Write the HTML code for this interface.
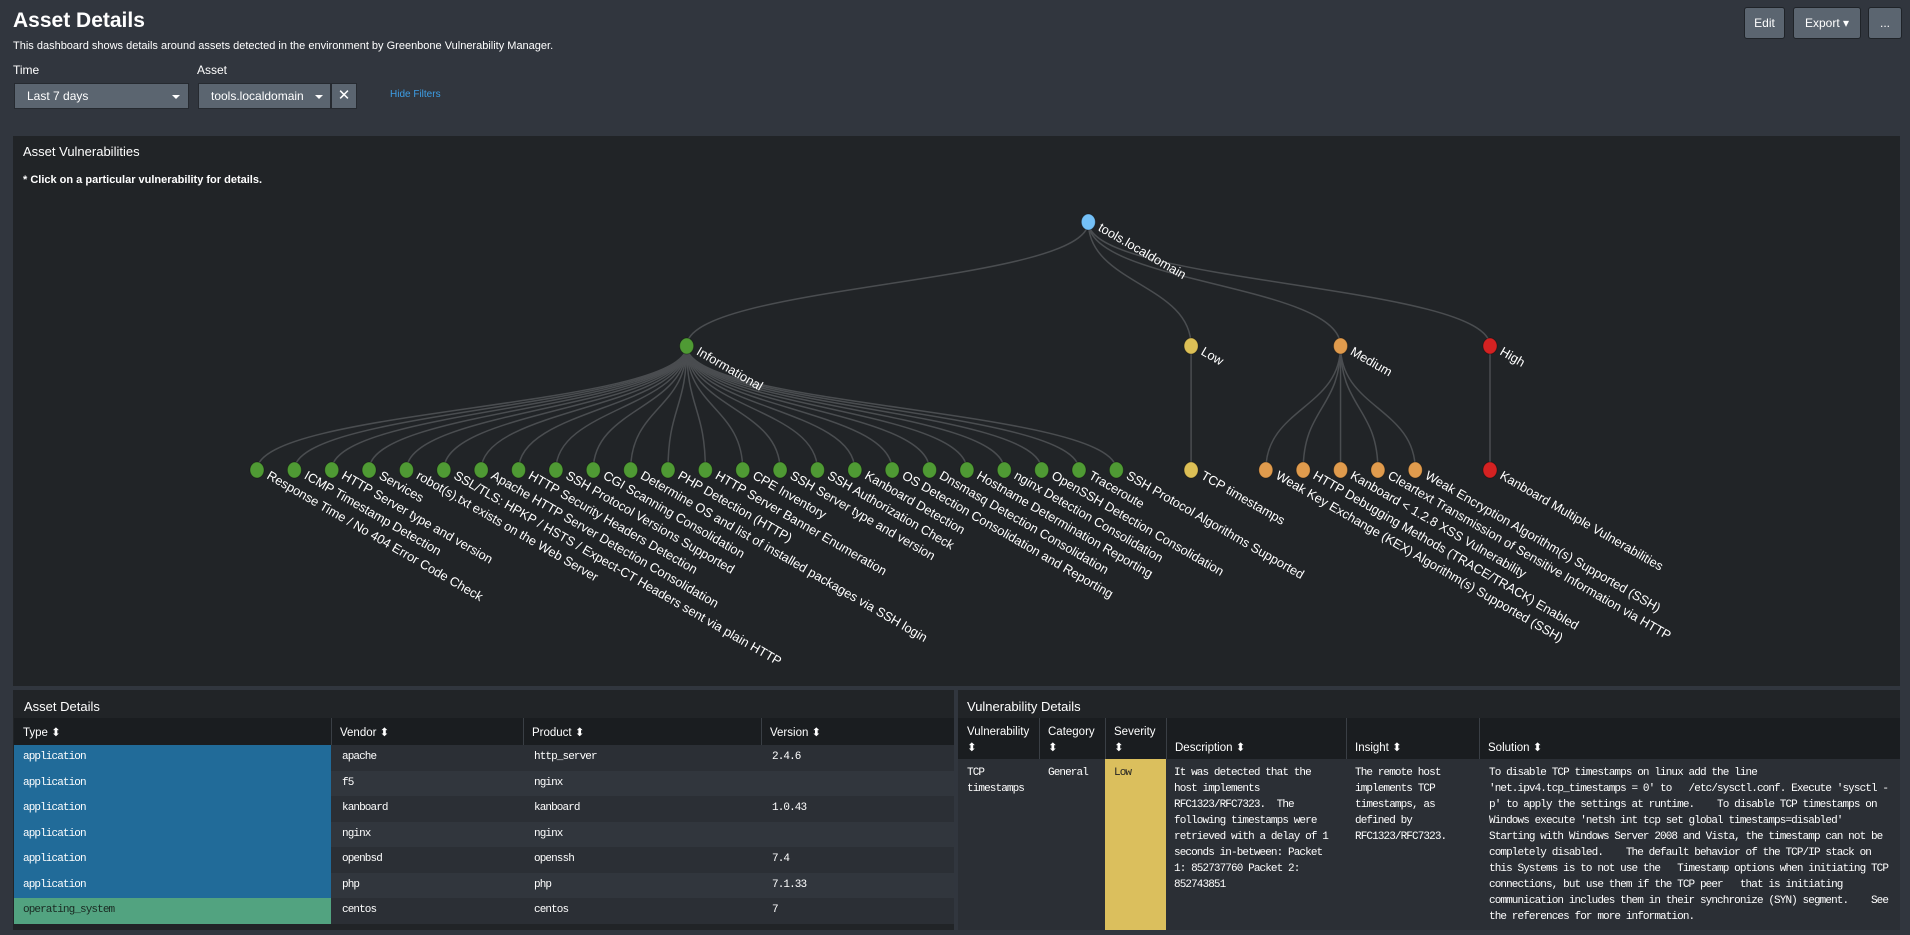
<!DOCTYPE html>
<html><head><meta charset="utf-8">
<style>
*{box-sizing:border-box;margin:0;padding:0}
body{width:1910px;height:935px;background:#31363e;font-family:"Liberation Sans",sans-serif;color:#fff;position:relative;overflow:hidden}
.abs{position:absolute}
.btn{position:absolute;background:#5b6570;border:1px solid #1f2328;border-radius:3px;color:#fff;font-size:12px;text-align:center;line-height:30px;height:32px;top:7px}
.dd{position:absolute;background:#5b6570;border:1px solid #262a30;height:26px;top:83px;font-size:12px;line-height:24px;color:#fff;padding-left:12px}
.caret{position:absolute;width:0;height:0;border-left:4px solid transparent;border-right:4px solid transparent;border-top:4px solid #fff}
.panel{position:absolute;background:#212427}
.ptitle{position:absolute;font-size:13px;color:#fff}
.th{position:absolute;background:#1a1d20;font-size:11.5px;color:#fff}
.mono{font-family:"Liberation Mono",monospace;font-size:11px;letter-spacing:-0.9px}
.cell{position:absolute;line-height:16px}
</style></head><body>
<div class="abs" style="left:13px;top:9px;font-size:21px;font-weight:bold">Asset Details</div>
<div class="abs" style="left:13px;top:40px;font-size:11px">This dashboard shows details around assets detected in the environment by Greenbone Vulnerability Manager.</div>
<div class="btn" style="left:1744px;width:41px">Edit</div>
<div class="btn" style="left:1793px;width:68px">Export &#9662;</div>
<div class="btn" style="left:1868px;width:34px">...</div>

<div class="abs" style="left:13px;top:63px;font-size:12px">Time</div>
<div class="abs" style="left:197px;top:63px;font-size:12px">Asset</div>
<div class="dd" style="left:14px;width:175px">Last 7 days<span class="caret" style="left:157px;top:11px"></span></div>
<div class="dd" style="left:198px;width:133px">tools.localdomain<span class="caret" style="left:116px;top:11px"></span></div>
<div class="dd" style="left:331px;width:26px;padding:0;text-align:center;font-size:15px">&#x2715;</div>
<div class="abs" style="left:390px;top:89px;font-size:10px;color:#3d9ee6">Hide Filters</div>

<div class="panel" style="left:13px;top:136px;width:1887px;height:550px"></div>
<div class="ptitle" style="left:23px;top:144px">Asset Vulnerabilities</div>
<div class="abs" style="left:23px;top:174px;font-size:11px;font-weight:bold">* Click on a particular vulnerability for details.</div>
<svg id="tree" class="abs" style="left:0;top:0" width="1910" height="690"></svg>

<!-- Asset details table -->
<div class="panel" style="left:13px;top:690px;width:941px;height:240px"></div>
<div class="ptitle" style="left:24px;top:699px">Asset Details</div>
<div class="th" style="left:14px;top:718px;width:940px;height:27px"></div>
<div id="atable"></div>

<!-- Vulnerability details -->
<div class="panel" style="left:958px;top:690px;width:942px;height:240px"></div>
<div class="ptitle" style="left:967px;top:699px">Vulnerability Details</div>
<div class="th" style="left:958px;top:718px;width:942px;height:41px"></div>
<div class="abs" style="left:958px;top:759px;width:942px;height:171px;background:#2b2f35"></div>
<div class="abs" style="left:1105px;top:759px;width:61px;height:171px;background:#dbbf5d"></div>
<div id="vhead"></div>
<div class="cell mono" style="left:967px;top:765px">TCP<br>timestamps</div>
<div class="cell mono" style="left:1048px;top:765px">General</div>
<div class="cell mono" style="left:1114px;top:765px;color:#222">Low</div>
<div class="cell mono" style="left:1174px;top:765px;white-space:pre">It was detected that the
host implements
RFC1323/RFC7323.  The
following timestamps were
retrieved with a delay of 1
seconds in-between: Packet
1: 852737760 Packet 2:
852743851</div>
<div class="cell mono" style="left:1355px;top:765px;white-space:pre">The remote host
implements TCP
timestamps, as
defined by
RFC1323/RFC7323.</div>
<div class="cell mono" style="left:1489px;top:765px;white-space:pre">To disable TCP timestamps on linux add the line
'net.ipv4.tcp_timestamps = 0' to   /etc/sysctl.conf. Execute 'sysctl -
p' to apply the settings at runtime.    To disable TCP timestamps on
Windows execute 'netsh int tcp set global timestamps=disabled'
Starting with Windows Server 2008 and Vista, the timestamp can not be
completely disabled.    The default behavior of the TCP/IP stack on
this Systems is to not use the   Timestamp options when initiating TCP
connections, but use them if the TCP peer   that is initiating
communication includes them in their synchronize (SYN) segment.    See
the references for more information.</div>

<script>
// ---- tree data ----
const rootName = "tools.localdomain";
const severities = ["Informational","Low","Medium","High"];
const infoLeaves = ["Response Time / No 404 Error Code Check","ICMP Timestamp Detection","HTTP Server type and version","Services","robot(s).txt exists on the Web Server","SSL/TLS: HPKP / HSTS / Expect-CT Headers sent via plain HTTP","Apache HTTP Server Detection Consolidation","HTTP Security Headers Detection","SSH Protocol Versions Supported","CGI Scanning Consolidation","Determine OS and list of installed packages via SSH login","PHP Detection (HTTP)","HTTP Server Banner Enumeration","CPE Inventory","SSH Server type and version","SSH Authorization Check","Kanboard Detection","OS Detection Consolidation and Reporting","Dnsmasq Detection Consolidation","Hostname Determination Reporting","nginx Detection Consolidation","OpenSSH Detection Consolidation","Traceroute","SSH Protocol Algorithms Supported"];
const lowLeaves = ["TCP timestamps"];
const mediumLeaves = ["Weak Key Exchange (KEX) Algorithm(s) Supported (SSH)","HTTP Debugging Methods (TRACE/TRACK) Enabled","Kanboard < 1.2.8 XSS Vulnerability","Cleartext Transmission of Sensitive Information via HTTP","Weak Encryption Algorithm(s) Supported (SSH)"];
const highLeaves = ["Kanboard Multiple Vulnerabilities"];
const severityColors = ["#4f9a34","#dcbf56","#e09b4d","#d42222"];

const NS="http://www.w3.org/2000/svg";
const svg=document.getElementById('tree');
const groups=[infoLeaves,lowLeaves,mediumLeaves,highLeaves];
const xStart=257,xEnd=1490,yRoot=222,yMid=346,yLeaf=470;
let units=0;groups.forEach((g,i)=>{units+=g.length-1;if(i>0)units+=2;});
const unit=(xEnd-xStart)/units;
let cur=0;const leafX=[];
groups.forEach((g,i)=>{if(i>0)cur+=2;const arr=[];g.forEach((l,j)=>{if(j>0)cur+=1;arr.push(xStart+cur*unit);});leafX.push(arr);});
const midX=leafX.map(a=>(a[0]+a[a.length-1])/2);
const rootX=(midX[0]+midX[midX.length-1])/2;
function link(x1,y1,x2,y2){const p=document.createElementNS(NS,'path');const m=(y1+y2)/2;
p.setAttribute('d',`M${x1},${y1}C${x1},${m} ${x2},${m} ${x2},${y2}`);p.setAttribute('fill','none');p.setAttribute('stroke','#4a4d50');p.setAttribute('stroke-width','1.5');


svg.appendChild(p);}
function node(x,y,col,label,name){const c=document.createElementNS(NS,'ellipse');c.setAttribute('cx',x);c.setAttribute('cy',y);c.setAttribute('rx',7);c.setAttribute('ry',8);c.setAttribute('fill',col);c.setAttribute('stroke','rgba(0,0,0,0.3)');c.setAttribute('stroke-width','1');


svg.appendChild(c);
const t=document.createElementNS(NS,'text');t.setAttribute('x',x+9);t.setAttribute('y',y+8);t.setAttribute('transform',`rotate(30 ${x+9} ${y+8})`);t.setAttribute('fill','#fff');t.setAttribute('font-size','12.8');t.setAttribute('font-family','Liberation Sans, sans-serif');t.textContent=label;


svg.appendChild(t);}
groups.forEach((g,i)=>{link(rootX,yRoot,midX[i],yMid);g.forEach((l,j)=>link(midX[i],yMid,leafX[i][j],yLeaf));});
groups.forEach((g,i)=>{g.forEach((l,j)=>node(leafX[i][j],yLeaf,severityColors[i],l,'vulnerability-leaf'));node(midX[i],yMid,severityColors[i],severities[i],'severity-'+severities[i].toLowerCase());});
node(rootX,yRoot,'#74c0f7',rootName,'asset-root');

// ---- asset table ----
const assetTypes=["application","application","application","application","application","application","operating_system"];
const assetVendors=["apache","f5","kanboard","nginx","openbsd","php","centos"];
const assetProducts=["http_server","nginx","kanboard","nginx","openssh","php","centos"];
const assetVersions=["2.4.6","","1.0.43","","7.4","7.1.33","7"];
const at=document.getElementById('atable');
const colX=[14,331,523,761];const heads=["Type","Vendor","Product","Version"];
heads.forEach((h,i)=>{const d=document.createElement('div');d.className='abs';d.style.cssText=`left:${colX[i]+9}px;top:725px;font-size:11.5px`;d.textContent=h+' \u2B0D';


at.appendChild(d);
if(i>0){const s=document.createElement('div');s.className='abs';s.style.cssText=`left:${colX[i]}px;top:718px;width:1px;height:27px;background:#3a3f45`;at.appendChild(s);}});
assetTypes.forEach((t,r)=>{const y=745+r*25.5;
const row=document.createElement('div');row.className='abs';row.style.cssText=`left:14px;top:${y}px;width:940px;height:25.5px;background:${r%2?'#31363d':'#2b2f35'}`;


at.appendChild(row);
const tc=document.createElement('div');tc.className='abs mono';tc.style.cssText=`left:14px;top:${y}px;width:317px;height:25.5px;line-height:25.5px;padding-left:9px;background:${t==='application'?'#216b99':'#52a380'};color:${t==='application'?'#fff':'#1a2a22'}`;tc.textContent=t;


at.appendChild(tc);
[assetVendors[r],assetProducts[r],assetVersions[r]].forEach((v,k)=>{const c=document.createElement('div');c.className='abs mono';c.style.cssText=`left:${colX[k+1]+11}px;top:${y}px;line-height:25.5px`;c.textContent=v;


at.appendChild(c);});});

// ---- vuln header ----
const vh=document.getElementById('vhead');
const vcols=[[958,"Vulnerability",true],[1039,"Category",true],[1105,"Severity",true],[1166,"Description",false],[1346,"Insight",false],[1479,"Solution",false]];
vcols.forEach(([x,h,two],i)=>{const d=document.createElement('div');d.className='abs';d.style.cssText=`left:${x+9}px;top:${two?724:740}px;font-size:11.5px;line-height:16px`;d.innerHTML=two?h+'<br>\u2B0D':h+' \u2B0D';


vh.appendChild(d);
if(i>0){const s=document.createElement('div');s.className='abs';s.style.cssText=`left:${x}px;top:718px;width:1px;height:41px;background:#3a3f45`;vh.appendChild(s);}});
</script>
</body></html>
